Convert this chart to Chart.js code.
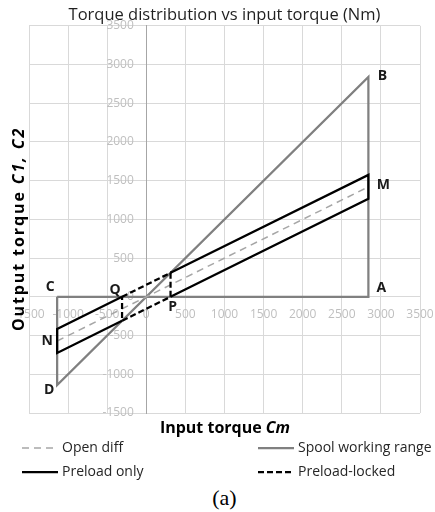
<!DOCTYPE html>
<html>
<head>
<meta charset="utf-8">
<script src="https://cdn.jsdelivr.net/npm/chart.js@4.4.1/dist/chart.umd.min.js"></script>
<style>
  body { margin: 0; background: #fff; }
  #wrap { width: 435px; height: 485px; }
  #caption {
    width: 421px; padding-left: 14px; text-align: center;
    font: 22px "Liberation Serif", serif; line-height: 26px; color: #000;
  }
</style>
</head>
<body>
<div id="wrap"><canvas id="chart" width="435" height="485"></canvas></div>
<div id="caption">(a)</div>
<script>
// data (Nm)
const openDiffX = [-1140, 2840];
const openDiffY = [-570, 1420];

const spoolX = [-1140, 2840, 2840, -1140, -1140];
const spoolY = [0, 0, 2840, -1140, 0];

// null = gap between the two solid pieces
const preloadX = [-310, -1140, -1140, -310, null, 310, 2840, 2840, 310];
const preloadY = [0, -415, -725, -310, null, 0, 1265, 1575, 310];

const lockedX = [-310, 310, 310, -310, -310];
const lockedY = [0, 310, 0, -310, 0];

// point letters
const letterNames = ['A', 'B', 'C', 'D', 'M', 'N', 'P', 'Q'];
const letterX = [2840, 2840, -1140, -1140, 2840, -1140, 310, -310];
const letterY = [0, 2840, 0, -1140, 1420, -570, 0, 0];

const xMin = -1500, xMax = 3500;
const yMin = -1500, yMax = 3500;
const tickStep = 500;

const pts = (xs, ys) => xs.map((x, i) => ({ x: x, y: ys[i] }));

// pixel nudges for the letters
const letterOffsets = {
    A: [13, -9], B: [14, -1], C: [-7, -10], D: [-8, 5],
    M: [15, -2], N: [-10, 0], P: [2, 10], Q: [-7, -7]
};

const pointLabels = {
    id: 'pointLabels',
    afterDatasetsDraw(chart) {
        const { ctx, scales: { x, y } } = chart;
        ctx.save();
        ctx.font = 'bold 14px "Open Sans"';
        ctx.fillStyle = '#1a1a1a';
        ctx.textAlign = 'center';
        ctx.textBaseline = 'middle';
        letterNames.forEach((n, i) => {
            const [dx, dy] = letterOffsets[n];
            ctx.fillText(n, x.getPixelForValue(letterX[i]) + dx, y.getPixelForValue(letterY[i]) + dy);
        });
        ctx.restore();
    }
};

function richText(ctx, parts, cx, cy) {
    const widths = parts.map(p => { ctx.font = p.font; return ctx.measureText(p.text).width; });
    let x = cx - widths.reduce((a, b) => a + b, 0) / 2;
    parts.forEach((p, i) => {
        ctx.font = p.font;
        ctx.fillText(p.text, x, cy);
        x += widths[i];
    });
}

const axisTitles = {
    id: 'axisTitles',
    afterDraw(chart) {
        const ctx = chart.ctx;
        const b = 'bold 16px "Open Sans"', bi = 'italic bold 16px "Open Sans"';
        ctx.save();
        ctx.fillStyle = '#000';
        ctx.textAlign = 'left';
        ctx.textBaseline = 'middle';
        richText(ctx, [{ text: 'Input torque ', font: b }, { text: 'Cm', font: bi }], 225, 428);
        ctx.translate(19, 229);
        ctx.rotate(-Math.PI / 2);
        ctx.letterSpacing = '1.9px';
        richText(ctx, [{ text: 'Output torque ', font: b }, { text: 'C1, C2', font: bi }], 0, 0);
        ctx.restore();
    }
};

// two-column legend like the original
const columnLegend = {
    id: 'columnLegend',
    afterDraw(chart) {
        const ctx = chart.ctx;
        const cols = [22, 258], rows = [448, 472];
        ctx.save();
        ctx.font = '14px "Open Sans"';
        ctx.textBaseline = 'middle';
        ctx.textAlign = 'left';
        chart.data.datasets.forEach((ds, i) => {
            const x0 = cols[i % 2], yy = rows[Math.floor(i / 2)];
            ctx.strokeStyle = ds.borderColor;
            ctx.lineWidth = ds.borderWidth;
            ctx.setLineDash(ds.borderDash || []);
            ctx.beginPath();
            ctx.moveTo(x0, yy);
            ctx.lineTo(x0 + 36, yy);
            ctx.stroke();
            ctx.fillStyle = '#262626';
            ctx.fillText(ds.label, x0 + 40, yy);
        });
        ctx.restore();
    }
};

const tickFont = { family: 'Open Sans', size: 12 };
// axes sit inside the plot, so their label overhang must not shrink it
const noEdgePadding = s => { s.paddingLeft = 0; s.paddingRight = 0; s.paddingTop = 0; s.paddingBottom = 0; };

new Chart(document.getElementById('chart'), {
    type: 'scatter',
    data: {
        datasets: [
            {
                label: 'Open diff', data: pts(openDiffX, openDiffY), showLine: true,
                borderColor: '#a6a6a6', borderWidth: 1.5, borderDash: [7, 5],
                pointRadius: 0, order: 2
            },
            {
                label: 'Spool working range', data: pts(spoolX, spoolY), showLine: true,
                borderColor: '#808080', borderWidth: 2.25,
                pointRadius: 0, order: 3
            },
            {
                label: 'Preload only', data: pts(preloadX, preloadY), showLine: true,
                borderColor: '#000000', borderWidth: 2.25,
                pointRadius: 0, order: 0
            },
            {
                label: 'Preload-locked', data: pts(lockedX, lockedY), showLine: true,
                borderColor: '#000000', borderWidth: 2.25, borderDash: [6, 3],
                pointRadius: 0, order: 1
            }
        ]
    },
    options: {
        responsive: false,
        animation: false,
        layout: { padding: { left: 29, right: 15, top: 0, bottom: 72 } },
        plugins: {
            legend: { display: false },
            tooltip: { enabled: false },
            title: {
                display: true,
                text: 'Torque distribution vs input torque (Nm)',
                font: { family: 'Open Sans', size: 16.5, weight: 'normal' },
                color: '#1f1f1f',
                padding: { top: 5, bottom: 1 }
            }
        },
        scales: {
            x: {
                type: 'linear', min: xMin, max: xMax,
                position: { y: 0 },
                afterFit: noEdgePadding,
                ticks: {
                    stepSize: tickStep, autoSkip: false, maxRotation: 0,
                    color: '#bfbfbf', font: tickFont, padding: 11,
                    callback: v => String(v)
                },
                grid: { color: '#d9d9d9', drawTicks: false },
                border: { color: '#d9d9d9' }
            },
            y: {
                type: 'linear', min: yMin, max: yMax,
                position: { x: 0 },
                afterFit: noEdgePadding,
                ticks: {
                    stepSize: tickStep, autoSkip: false,
                    color: '#bfbfbf', font: tickFont,
                    // no-break spaces keep the labels clear of the axis line
                    callback: v => v + '\u00A0\u00A0\u00A0\u00A0'
                },
                grid: { color: '#d9d9d9', drawTicks: false },
                border: { color: '#a6a6a6' }
            }
        }
    },
    plugins: [pointLabels, axisTitles, columnLegend]
});
</script>
</body>
</html>
